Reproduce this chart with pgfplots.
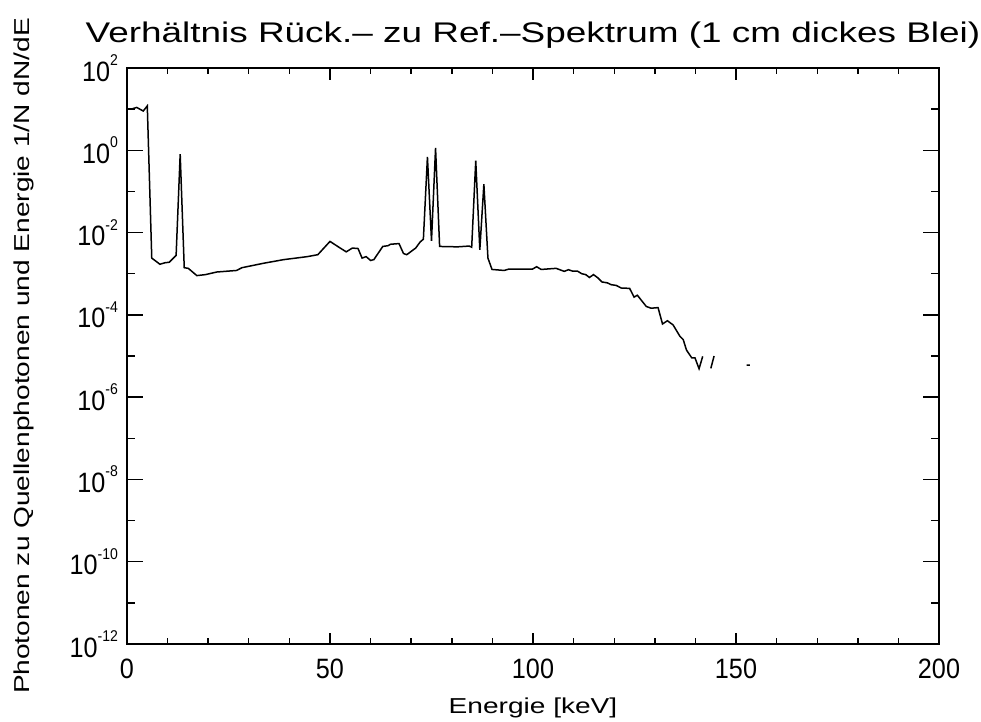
\documentclass[border=0pt]{standalone}
\usepackage{fontspec}
\setmainfont{Liberation Sans}[FakeStretch=1.3]
\newfontfamily\tickfam{Liberation Sans}[FakeStretch=0.9]
\usepackage{pgfplots}
\pgfplotsset{compat=1.18}

\newcommand{\lblfont}{\fontsize{10.8}{13}\selectfont}
\newcommand{\tckfont}{\tickfam\fontsize{14}{16}\selectfont}
\newcommand{\ttlfont}{\fontsize{14.2}{17}\selectfont}
\newcommand{\dek}[1]{10\raisebox{1.05ex}{\fontsize{7.8}{9}\selectfont #1}}

\begin{document}
\begin{tikzpicture}
\begin{axis}[
    scale only axis,
    width=406pt, height=288pt,
    xmin=0, xmax=200,
    ymode=log, ymin=1e-12, ymax=1e2,
    xtick={0,50,100,150,200},
    xticklabels={0,50,100,150,200},
    minor xtick={10,20,30,40,60,70,80,90,110,120,130,140,160,170,180,190},
    ytick={1e-12,1e-10,1e-8,1e-6,1e-4,1e-2,1,1e2},
    yticklabels={\dek{-12},\dek{-10},\dek{-8},\dek{-6},\dek{-4},\dek{-2},\dek{0},\dek{2}},
    minor ytick={1e-11,1e-9,1e-7,1e-5,1e-3,1e-1,1e1},
    tick align=inside,
    xtick style={/pgfplots/major tick length=5.75pt, /pgfplots/minor tick length=2.9pt},
    ytick style={/pgfplots/major tick length=8pt, /pgfplots/minor tick length=4pt},
    tick style={black, line width=0.7pt},
    axis line style={line width=0.75pt},
    xticklabel style={font=\tckfont, yshift=-4pt},
    yticklabel style={font=\tckfont, xshift=-1pt},
    xlabel={Energie [keV]},
    xlabel style={font=\lblfont, at={(axis description cs:0.5,-0.1198)}, anchor=base},
    ylabel={Photonen zu Quellenphotonen und Energie 1/N dN/dE},
    ylabel style={font=\lblfont, at={(axis description cs:-0.1195,0.5)}, anchor=base},
    title={Verhältnis Rück.– zu Ref.–Spektrum (1 cm dickes Blei)},
    title style={font=\ttlfont, at={(axis description cs:0.5,1.0226)}, anchor=base},
    unbounded coords=jump,
]
\addplot[black, line width=0.75pt] coordinates {
    (0.3,1.0e1) (1,1.0e1) (2.4,1.1e1) (4,9e0) (5,1.2e1)
    (6.1,2.4e-3) (8.1,1.7e-3) (9.4,1.85e-3) (10.4,1.9e-3) (12.1,2.8e-3)
    (13.1,0.81) (14.1,1.4e-3) (15.1,1.35e-3) (17.2,9e-4) (19.3,9.5e-4)
    (22.1,1.1e-3) (27,1.2e-3) (28.3,1.4e-3) (33.7,1.8e-3) (38.6,2.2e-3)
    (44.4,2.6e-3) (47,2.9e-3) (50,6.1e-3) (52.2,4.4e-3) (54,3.4e-3)
    (55.5,4.2e-3) (56.9,4.1e-3) (57.9,2.4e-3) (58.9,2.6e-3) (60,2.1e-3)
    (60.8,2.2e-3) (63,4.6e-3) (64.3,4.8e-3) (64.9,5.2e-3) (67,5.4e-3)
    (68.1,3.1e-3) (68.9,2.9e-3) (71.1,4.2e-3) (72.2,5.9e-3) (73,6.9e-3)
    (74,0.69) (75,6.3e-3) (76,1.14) (77,4.6e-3) (81.4,4.5e-3)
    (84.3,4.7e-3) (84.9,4.4e-3) (85.9,0.56) (86.9,3.8e-3) (87.9,0.15)
    (88.9,2.4e-3) (89.9,1.27e-3) (92.9,1.2e-3) (94.1,1.3e-3) (97,1.3e-3)
    (99.9,1.3e-3) (100.9,1.48e-3) (102,1.27e-3) (105.7,1.35e-3) (107.7,1.14e-3)
    (108.7,1.25e-3) (109.8,1.15e-3) (111,1.15e-3) (112,1.0e-3) (113,9.5e-4)
    (113.9,8.1e-4) (114.9,9.5e-4) (116,7.9e-4) (117,6.3e-4) (118.3,6e-4)
    (119.3,5.4e-4) (120.5,5.2e-4) (121.7,4.5e-4) (123.8,4.4e-4) (124.9,2.7e-4)
    (125.7,3e-4) (127.9,1.6e-4) (129.1,1.45e-4) (130.8,1.5e-4) (131.9,6e-5)
    (133.1,7.2e-5) (134.5,5.7e-5) (136.2,3e-5) (137,2.5e-5) (137.8,1.4e-5)
    (139.1,9e-6) (139.9,9e-6) (140.9,4.9e-6) (141.8,9.8e-6) (142.8,nan)
    (143.8,5e-6) (144.6,1e-5) (146,nan)
    (152.6,6e-6) (153.4,6e-6)
};
\end{axis}
\pgfresetboundingbox
\path[use as bounding box] (-63.5pt,-39pt) rectangle (427pt,322pt);
\end{tikzpicture}
\end{document}
